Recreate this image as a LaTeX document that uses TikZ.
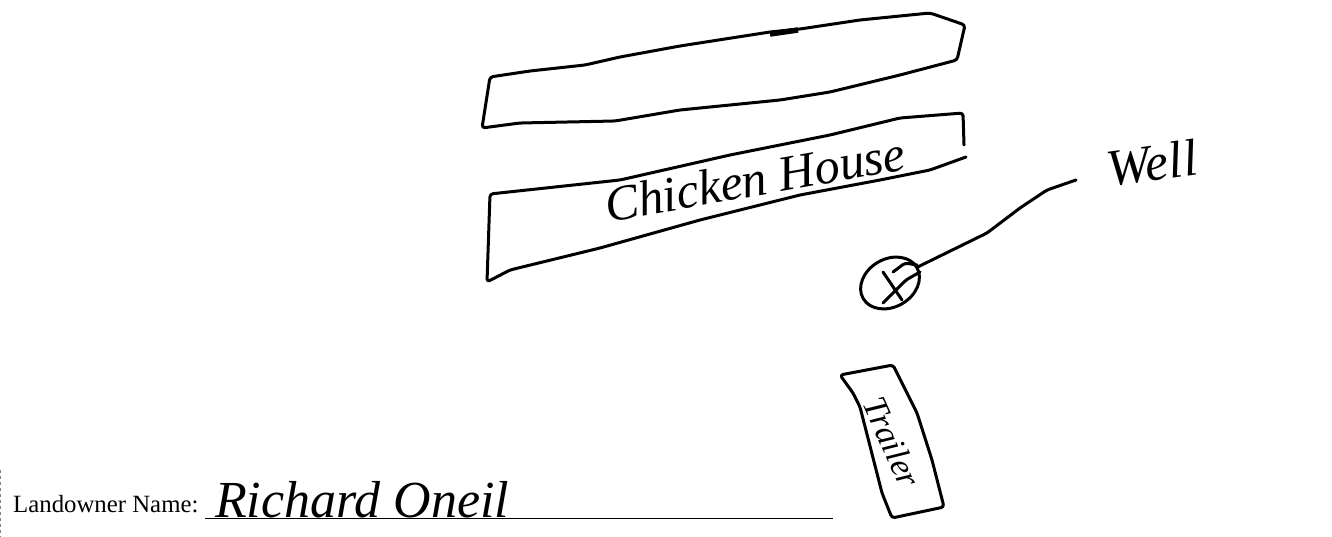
\documentclass[tikz,border=0pt]{standalone}
\usepackage{fontspec}
\setmainfont{Liberation Serif}
\usetikzlibrary{shapes.geometric}
\tikzset{
  sketch/.style={line width=3pt, line join=round, line cap=round, rounded corners=3pt},
  handtext/.style={font=\fontsize{#1}{#1}\selectfont\itshape, inner sep=0pt},
  printtext/.style={font=\fontsize{24.8}{28}\selectfont, inner sep=0pt}
}
\begin{document}
\begin{tikzpicture}[x=1pt, y=-1pt]
  \useasboundingbox (0,0) rectangle (1332,537);
  % houses
  \draw[sketch] (490,77)--(530,71)--(585,65)--(620,57)--(680,46)--(770,32)--(800,29)--(860,20)
    --(930,13)--(965,25)--(957,60)--(900,75)--(830,92)--(780,100)--(680,110)--(615,121)
    --(520,123)--(482,128)--cycle;
  \draw[line width=5.5pt] (770,34)--(798,30);
  \draw[sketch] (964,145)--(963,113)--(900,118)--(830,135)--(730,155)--(620,180)--(490,194)
    --(487,282)--(510,270)--(600,248)--(700,220)--(800,195)--(880,180)--(930,170)--(966,157);
  \node[handtext=50, rotate=10] (chickenlabel) at (755,179) {Chicken House};
  % well
  \node[draw, sketch, ellipse, rotate=30, minimum width=62pt, minimum height=48pt, inner sep=0pt] (wellmark) at (890,283) {};
  \node[handtext=52, rotate=8] (welllabel) at (1152,163) {Well};
  \coordinate (wellend) at (1076,180);
  \draw[sketch] (wellmark.east)--(987,233)--(1020,208)--(1047,190)--(wellend);
  \draw[sketch] (883,272)--(902,300);
  \draw[sketch] (920,272)--(906,280)--(883,303);
  \draw[sketch] (893,272)--(905,263)--(917,265);
  % trailer
  \draw[sketch] (840,375)--(893,365)--(917,413)--(932,460)--(944,507)--(892,518)--(882,493)
    --(860,407)--(853,393)--cycle;
  \node[handtext=34, rotate=-66] (trailerlabel) at (892,442) {Trailer};
  % name line
  \node[printtext, anchor=base west] (ownerlabel) at (13,512) {Landowner Name:};
  \coordinate (linestart) at (205,518);
  \coordinate (lineend) at (833,518);
  \draw[line width=1pt] (linestart)--(lineend);
  \node[handtext=52, anchor=base west] (ownername) at (215,517) {Richard Oneil};
  \draw[gray, line width=1pt, dashed] (0.5,470)--(0.5,537);
\end{tikzpicture}
\end{document}
